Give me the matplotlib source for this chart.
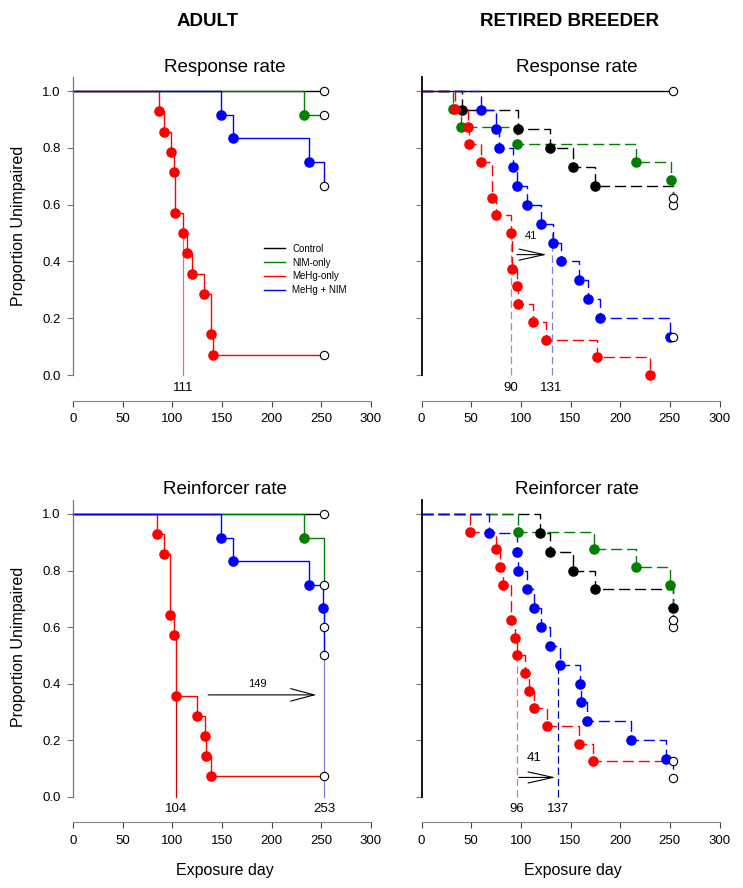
import matplotlib
matplotlib.use("Agg")
import matplotlib.pyplot as plt
from matplotlib.lines import Line2D

plt.rcParams["font.family"] = ["Liberation Sans", "DejaVu Sans"]

END_DAY = 253
GROUPS = ["Control", "NIM-only", "MeHg-only", "MeHg + NIM"]
COLORS = {"Control": "black", "NIM-only": "#008000", "MeHg-only": "#ff0000", "MeHg + NIM": "#0000ff"}

# ---- Adult, response rate ----
ad_resp_ctrl_days = []
ad_resp_ctrl_surv = []
ad_resp_ctrl_cens = [1.0]
ad_resp_nim_days = [233]
ad_resp_nim_surv = [11 / 12]
ad_resp_nim_cens = [11 / 12]
ad_resp_mehg_days = [87, 92, 99, 102, 103, 111, 115, 120, 132, 139, 141]
ad_resp_mehg_surv = [13 / 14, 12 / 14, 11 / 14, 10 / 14, 8 / 14, 7 / 14, 6 / 14, 5 / 14, 4 / 14, 2 / 14, 1 / 14]
ad_resp_mehg_cens = [1 / 14]
ad_resp_combo_days = [149, 161, 238]
ad_resp_combo_surv = [11 / 12, 10 / 12, 9 / 12]
ad_resp_combo_cens = [8 / 12]

# ---- Adult, reinforcer rate ----
ad_rein_ctrl_days = []
ad_rein_ctrl_surv = []
ad_rein_ctrl_cens = [1.0]
ad_rein_nim_days = [233]
ad_rein_nim_surv = [11 / 12]
ad_rein_nim_cens = [9 / 12]
ad_rein_mehg_days = [85, 92, 98, 102, 104, 125, 133, 134, 139]
ad_rein_mehg_surv = [13 / 14, 12 / 14, 9 / 14, 8 / 14, 5 / 14, 4 / 14, 3 / 14, 2 / 14, 1 / 14]
ad_rein_mehg_cens = [1 / 14]
ad_rein_combo_days = [149, 161, 238, 252]
ad_rein_combo_surv = [11 / 12, 10 / 12, 9 / 12, 8 / 12]
ad_rein_combo_cens = [0.6, 0.5]

# ---- Retired breeder, response rate ----
rb_resp_ctrl_days = [41, 97, 129, 153, 175]
rb_resp_ctrl_surv = [14 / 15, 13 / 15, 12 / 15, 11 / 15, 10 / 15]
rb_resp_ctrl_cens = [9 / 15]
rb_resp_nim_days = [32, 40, 96, 216, 251]
rb_resp_nim_surv = [15 / 16, 14 / 16, 13 / 16, 12 / 16, 11 / 16]
rb_resp_nim_cens = [10 / 16]
rb_resp_mehg_days = [34, 47, 48, 60, 71, 75, 90, 91, 96, 97, 112, 125, 177, 230]
rb_resp_mehg_surv = [15 / 16, 14 / 16, 13 / 16, 12 / 16, 10 / 16, 9 / 16, 8 / 16, 6 / 16,
                     5 / 16, 4 / 16, 3 / 16, 2 / 16, 1 / 16, 0.0]
rb_resp_mehg_cens = []
rb_resp_combo_days = [60, 75, 78, 92, 96, 106, 120, 132, 140, 159, 168, 180, 250]
rb_resp_combo_surv = [14 / 15, 13 / 15, 12 / 15, 11 / 15, 10 / 15, 9 / 15, 8 / 15, 7 / 15,
                      6 / 15, 5 / 15, 4 / 15, 3 / 15, 2 / 15]
rb_resp_combo_cens = [2 / 15]
rb_resp_ref_cens = [1.0]   # solid reference line at 1.0

# ---- Retired breeder, reinforcer rate ----
rb_rein_ctrl_days = [119, 129, 153, 175, 253]
rb_rein_ctrl_surv = [14 / 15, 13 / 15, 12 / 15, 11 / 15, 10 / 15]
rb_rein_ctrl_cens = [9 / 15]
rb_rein_nim_days = [97, 174, 216, 250]
rb_rein_nim_surv = [15 / 16, 14 / 16, 13 / 16, 12 / 16]
rb_rein_nim_cens = [10 / 16]
rb_rein_mehg_days = [49, 75, 79, 82, 90, 94, 96, 104, 108, 113, 126, 159, 173]
rb_rein_mehg_surv = [15 / 16, 14 / 16, 13 / 16, 12 / 16, 10 / 16, 9 / 16, 8 / 16, 7 / 16,
                     6 / 16, 5 / 16, 4 / 16, 3 / 16, 2 / 16]
rb_rein_mehg_cens = [2 / 16]
rb_rein_combo_days = [68, 96, 97, 106, 113, 120, 129, 139, 160, 161, 167, 211, 246]
rb_rein_combo_surv = [14 / 15, 13 / 15, 12 / 15, 11 / 15, 10 / 15, 9 / 15, 8 / 15, 7 / 15,
                      6 / 15, 5 / 15, 4 / 15, 3 / 15, 2 / 15]
rb_rein_combo_cens = [1 / 15]

# median survival days (label, top of drop line, colour)
ad_resp_medians = [(111, 0.5, "#e87080")]
ad_rein_medians = [(104, 5 / 14, "#cc0000"), (253, 8 / 12, "#8080e0")]
rb_resp_medians = [(90, 0.5, "#f07080"), (131, 0.5, "#8080e0")]
rb_rein_medians = [(96, 0.5, "#f07080"), (137, 0.47, "#0000b0")]

# arrows showing median difference: (start day, end day, level, label, label day, label level, fontsize)
ad_rein_arrow = (136, 245, 0.36, "149", 186, 0.40, 8)
rb_resp_arrow = (96, 126, 0.424, "41", 110, 0.49, 8)
rb_rein_arrow = (98, 135, 0.068, "41", 113, 0.135, 9.5)


def km_curve(ax, days, surv, cens, color, ls):
    xs, ys = [0], [1.0]
    level = 1.0
    for t, s in zip(days, surv):
        xs += [t, t]
        ys += [level, s]
        level = s
    if cens:
        xs += [END_DAY, END_DAY]
        ys += [level, min(cens)]
    ax.plot(xs, ys, color=color, lw=1.0, ls=ls, zorder=2, clip_on=False)
    ax.plot(days, surv, "o", color=color, ms=6.6, zorder=3, clip_on=False)
    ax.plot([END_DAY] * len(cens), cens, "o", mfc="white", mec="black",
            ms=6, mew=0.8, zorder=4, clip_on=False)


def style_axes(ax, left_panel):
    ax.set_xlim(0, 300)
    ax.set_ylim(-0.09, 1.06)
    for side in ("top", "right"):
        ax.spines[side].set_visible(False)
    ax.spines["left"].set_bounds(0, 1.05)
    ax.spines["bottom"].set_bounds(0, 300)
    ax.spines["bottom"].set_color("#888888")
    ax.set_xticks(range(0, 301, 50))
    ax.set_yticks([0, 0.2, 0.4, 0.6, 0.8, 1.0])
    ax.tick_params(axis="x", length=4, width=0.8, color="#444444", labelsize=9.5, pad=5)
    ax.tick_params(axis="y", length=4, width=0.8, color="#777777", labelsize=9.5, pad=5)
    if left_panel:
        ax.spines["left"].set_color("#777777")
        ax.spines["left"].set_linewidth(0.9)
        ax.set_yticklabels(["0.0", "0.2", "0.4", "0.6", "0.8", "1.0"])
    else:
        ax.spines["left"].set_color("black")
        ax.spines["left"].set_linewidth(1.3)
        ax.set_yticklabels([])
    ax.patch.set_alpha(0)


def medians(ax, meds, ls):
    for day, top, color in meds:
        ax.plot([day, day], [0, top], color=color, lw=0.9, ls=ls, zorder=1)
        ax.text(day, -0.045, str(day), ha="center", va="center", fontsize=9.5)


def arrow(ax, spec, head_len, head_w):
    x0, x1, y, label, lx, ly, fs = spec
    ax.annotate("", xy=(x1, y), xytext=(x0, y),
                arrowprops=dict(arrowstyle=f"->,head_length={head_len},head_width={head_w}",
                                color="black", lw=0.8, shrinkA=0, shrinkB=0))
    ax.text(lx, ly, label, ha="center", va="center", fontsize=fs)


fig = plt.figure(figsize=(7.43, 8.88), dpi=100)
W, H = 743, 888
top_rect = lambda x0: [x0 / W, (H - 400.6) / H, 298 / W, 326.6 / H]
bot_rect = lambda x0: [x0 / W, (H - 822.1) / H, 298 / W, 325.1 / H]

ax_ar = fig.add_axes(top_rect(73))
ax_rr = fig.add_axes(top_rect(421.5))
ax_ai = fig.add_axes(bot_rect(73))
ax_ri = fig.add_axes(bot_rect(421.5))

solid, dashed = "-", (0, (8, 3.5))

# adult response
km_curve(ax_ar, ad_resp_ctrl_days, ad_resp_ctrl_surv, ad_resp_ctrl_cens, COLORS["Control"], solid)
km_curve(ax_ar, ad_resp_nim_days, ad_resp_nim_surv, ad_resp_nim_cens, COLORS["NIM-only"], solid)
km_curve(ax_ar, ad_resp_mehg_days, ad_resp_mehg_surv, ad_resp_mehg_cens, COLORS["MeHg-only"], solid)
km_curve(ax_ar, ad_resp_combo_days, ad_resp_combo_surv, ad_resp_combo_cens, COLORS["MeHg + NIM"], solid)
medians(ax_ar, ad_resp_medians, "-")

handles = [Line2D([0], [0], color=COLORS[g], lw=1.0) for g in GROUPS]
ax_ar.legend(handles, GROUPS, loc="upper left", bbox_to_anchor=(0.641, 0.48), frameon=False,
             fontsize=7, handlelength=2.2, handletextpad=0.7, labelspacing=0.38,
             borderpad=0, borderaxespad=0)

# adult reinforcer
km_curve(ax_ai, ad_rein_ctrl_days, ad_rein_ctrl_surv, ad_rein_ctrl_cens, COLORS["Control"], solid)
km_curve(ax_ai, ad_rein_nim_days, ad_rein_nim_surv, ad_rein_nim_cens, COLORS["NIM-only"], solid)
km_curve(ax_ai, ad_rein_mehg_days, ad_rein_mehg_surv, ad_rein_mehg_cens, COLORS["MeHg-only"], solid)
km_curve(ax_ai, ad_rein_combo_days, ad_rein_combo_surv, ad_rein_combo_cens, COLORS["MeHg + NIM"], solid)
medians(ax_ai, ad_rein_medians, "-")
arrow(ax_ai, ad_rein_arrow, 1.7, 0.45)

# retired breeder response
km_curve(ax_rr, [], [], rb_resp_ref_cens, "black", solid)
km_curve(ax_rr, rb_resp_ctrl_days, rb_resp_ctrl_surv, rb_resp_ctrl_cens, COLORS["Control"], dashed)
km_curve(ax_rr, rb_resp_nim_days, rb_resp_nim_surv, rb_resp_nim_cens, COLORS["NIM-only"], dashed)
km_curve(ax_rr, rb_resp_mehg_days, rb_resp_mehg_surv, rb_resp_mehg_cens, COLORS["MeHg-only"], dashed)
km_curve(ax_rr, rb_resp_combo_days, rb_resp_combo_surv, rb_resp_combo_cens, COLORS["MeHg + NIM"], dashed)
medians(ax_rr, rb_resp_medians, (0, (6, 3)))
arrow(ax_rr, rb_resp_arrow, 1.8, 0.4)

# retired breeder reinforcer
km_curve(ax_ri, rb_rein_ctrl_days, rb_rein_ctrl_surv, rb_rein_ctrl_cens, COLORS["Control"], dashed)
km_curve(ax_ri, rb_rein_nim_days, rb_rein_nim_surv, rb_rein_nim_cens, COLORS["NIM-only"], dashed)
km_curve(ax_ri, rb_rein_mehg_days, rb_rein_mehg_surv, rb_rein_mehg_cens, COLORS["MeHg-only"], dashed)
km_curve(ax_ri, rb_rein_combo_days, rb_rein_combo_surv, rb_rein_combo_cens, COLORS["MeHg + NIM"], dashed)
medians(ax_ri, rb_rein_medians, (0, (6, 3)))
arrow(ax_ri, rb_rein_arrow, 1.8, 0.4)

style_axes(ax_ar, True)
style_axes(ax_ai, True)
style_axes(ax_rr, False)
style_axes(ax_ri, False)

# headers, titles and axis labels
fig.text(208 / W, 1 - 22 / H, "ADULT", ha="center", va="center", fontsize=13.5, fontweight="bold")
fig.text(570 / W, 1 - 22 / H, "RETIRED BREEDER", ha="center", va="center", fontsize=13.5, fontweight="bold")
for x, y, t in [(225, 67, "Response rate"), (577, 67, "Response rate"),
                (225, 489, "Reinforcer rate"), (577, 489, "Reinforcer rate")]:
    fig.text(x / W, 1 - y / H, t, ha="center", va="center", fontsize=13.5)
for y in (226, 647):
    fig.text(19 / W, 1 - y / H, "Proportion Unimpaired", rotation=90, ha="center", va="center", fontsize=11.5)
for x in (225, 573):
    fig.text(x / W, 1 - 870 / H, "Exposure day", ha="center", va="center", fontsize=11.5)

fig.savefig("out.png", dpi=100)
